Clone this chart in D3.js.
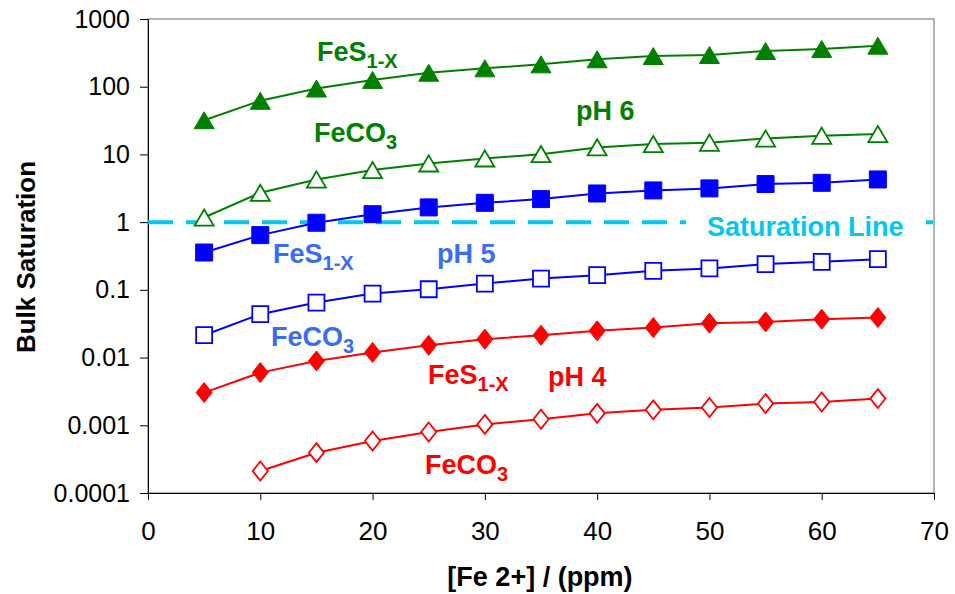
<!DOCTYPE html>
<meta charset="utf-8">
<head>
<title>Bulk Saturation</title>
<script src="https://cdn.jsdelivr.net/npm/d3@7"></script>
<style>
  body { margin: 0; background: #fff; }
  text { font-family: "Liberation Sans", Arial, sans-serif; }
  .axis path, .axis line { stroke: #000; }
  .note { font-weight: bold; font-size: 27px; }
</style>
</head>
<body>
<svg id="chart"></svg>
<script>
// concentrations of Fe2+ (ppm)
var xs = [5, 10, 15, 20, 25, 30, 35, 40, 45, 50, 55, 60, 65];
var xsCO3pH4 = [10, 15, 20, 25, 30, 35, 40, 45, 50, 55, 60, 65];

var ph6FeS   = [32, 62, 94, 126, 161, 187, 214, 254, 284, 294, 337, 360, 404];
var ph6FeCO3 = [1.17, 2.71, 4.27, 5.87, 7.36, 8.73, 10.1, 12.7, 14.2, 14.9, 17.2, 18.9, 20.0];
var ph5FeS   = [0.356, 0.643, 0.98, 1.31, 1.65, 1.93, 2.19, 2.65, 2.94, 3.15, 3.65, 3.81, 4.27];
var ph5FeCO3 = [0.0214, 0.0437, 0.065, 0.088, 0.102, 0.124, 0.147, 0.165, 0.191, 0.207, 0.24, 0.259, 0.284];
var ph4FeS   = [0.00304, 0.006, 0.0089, 0.0119, 0.0152, 0.0187, 0.0214, 0.0248, 0.0277, 0.0322, 0.0336, 0.0369, 0.039];
var ph4FeCO3 = [0.000211, 0.000394, 0.000586, 0.000796, 0.00103, 0.00123, 0.0015, 0.00169, 0.00183, 0.00209, 0.00221, 0.00248];

var xTicks = [0, 10, 20, 30, 40, 50, 60, 70];
var yTicks = [0.0001, 0.001, 0.01, 0.1, 1, 10, 100, 1000];

var margin = {top: 19, right: 21, bottom: 101, left: 148};
var width = 955 - margin.left - margin.right;
var height = 594 - margin.top - margin.bottom;

var svg = d3.select("#chart")
    .attr("width", 955)
    .attr("height", 594);
var g = svg.append("g")
    .attr("transform", "translate(" + margin.left + "," + margin.top + ")");

var x = d3.scaleLinear().domain([0, 70]).range([0, width]);
var y = d3.scaleLog().domain([0.0001, 1000]).range([height, 0]);

// frame
g.append("rect")
    .attr("width", width).attr("height", height)
    .attr("fill", "none").attr("stroke", "#808080").attr("stroke-width", 1.2);

g.append("g")
    .attr("class", "axis")
    .attr("transform", "translate(0," + height + ")")
    .call(d3.axisBottom(x).tickValues(xTicks).tickSize(7).tickPadding(22).tickSizeOuter(0))
    .call(function(a) {
      a.selectAll("text").attr("font-size", 26).attr("fill", "#000").attr("font-family", null);
    });

g.append("g")
    .attr("class", "axis")
    .call(d3.axisLeft(y).tickValues(yTicks).tickSize(8).tickPadding(10).tickSizeOuter(0)
      .tickFormat(function(d) { return String(d); }))
    .call(function(a) {
      a.selectAll("text").attr("font-size", 25).attr("fill", "#000").attr("font-family", null);
    });

// saturation line
g.append("line")
    .attr("x1", 0).attr("x2", width)
    .attr("y1", y(1)).attr("y2", y(1))
    .attr("stroke", "#00c8f0").attr("stroke-width", 4)
    .attr("stroke-dasharray", "25,13");

g.append("rect")
    .attr("x", 686 - margin.left).attr("y", y(1) - 13)
    .attr("width", 240).attr("height", 28)
    .attr("fill", "#fff");

// marker shapes
function triangle(r) {
  var h = r * 0.85;
  return "M0," + (-h) + "L" + r + "," + h + "L" + (-r) + "," + h + "Z";
}
function square(r) {
  return "M" + (-r) + "," + (-r) + "H" + r + "V" + r + "H" + (-r) + "Z";
}
function diamond(r) {
  var w = r * 0.8;
  return "M0," + (-r) + "L" + w + ",0L0," + r + "L" + (-w) + ",0Z";
}

var series = [
  {xv: xs, yv: ph6FeS,   color: "#008000", shape: triangle(10), fill: true},
  {xv: xs, yv: ph6FeCO3, color: "#008000", shape: triangle(9.5), fill: false},
  {xv: xs, yv: ph5FeS,   color: "#0000ff", shape: square(8.5), fill: true},
  {xv: xs, yv: ph5FeCO3, color: "#0000ff", shape: square(8), fill: false},
  {xv: xs, yv: ph4FeS,   color: "#ff0000", shape: diamond(10), fill: true},
  {xv: xsCO3pH4, yv: ph4FeCO3, color: "#ff0000", shape: diamond(9.5), fill: false}
];

var line = d3.line()
    .x(function(d) { return x(d[0]); })
    .y(function(d) { return y(d[1]); });

series.forEach(function(s) {
  var pts = s.xv.map(function(v, i) { return [v, s.yv[i]]; });
  g.append("path")
      .datum(pts)
      .attr("d", line)
      .attr("fill", "none")
      .attr("stroke", s.color)
      .attr("stroke-width", 2);
  g.selectAll(null)
      .data(pts)
      .enter().append("path")
      .attr("transform", function(d) { return "translate(" + x(d[0]) + "," + y(d[1]) + ")"; })
      .attr("d", s.shape)
      .attr("fill", s.fill ? s.color : "#fff")
      .attr("stroke", s.color)
      .attr("stroke-width", s.fill ? 1 : 1.8);
});

// annotations (page coordinates)
var notes = [
  {t: "FeS", sub: "1-X", x: 317, y: 61, c: "#008000"},
  {t: "pH 6", x: 576, y: 120, c: "#008000"},
  {t: "FeCO", sub: "3", x: 314, y: 142, c: "#008000"},
  {t: "Saturation Line", x: 707, y: 236, c: "#00c8f0"},
  {t: "FeS", sub: "1-X", x: 273, y: 263, c: "#3a6cf4"},
  {t: "pH 5", x: 437, y: 263, c: "#3a6cf4"},
  {t: "FeCO", sub: "3", x: 271, y: 346, c: "#3a6cf4"},
  {t: "FeS", sub: "1-X", x: 428, y: 384, c: "#ff0000"},
  {t: "pH 4", x: 548, y: 386, c: "#ff0000"},
  {t: "FeCO", sub: "3", x: 425, y: 474, c: "#ff0000"}
];

notes.forEach(function(n) {
  var t = svg.append("text")
      .attr("class", "note")
      .attr("x", n.x).attr("y", n.y)
      .attr("fill", n.c)
      .text(n.t);
  if (n.sub) {
    t.append("tspan")
        .attr("font-size", 20)
        .attr("dy", 7)
        .text(n.sub);
  }
});

// axis titles
svg.append("text")
    .attr("x", margin.left + x(35) - 1).attr("y", 586)
    .attr("text-anchor", "middle")
    .attr("font-weight", "bold").attr("font-size", 27)
    .text("[Fe 2+] / (ppm)");

svg.append("text")
    .attr("transform", "translate(35,257) rotate(-90)")
    .attr("text-anchor", "middle")
    .attr("font-weight", "bold").attr("font-size", 26)
    .text("Bulk Saturation");
</script>
</body>
